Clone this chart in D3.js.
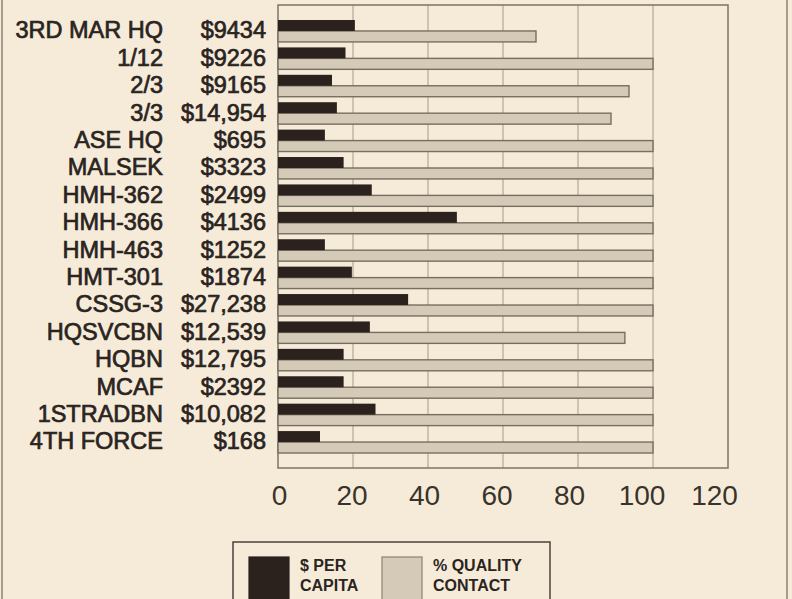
<!DOCTYPE html>
<html>
<head>
<meta charset="utf-8">
<script src="https://cdn.jsdelivr.net/npm/d3@7"></script>
<style>
  body { margin: 0; background: #f6ecdb; }
  svg { display: block; font-family: "Liberation Sans", Arial, sans-serif; }
</style>
</head>
<body>
<div id="chart"></div>
<script>
const units = ["3RD MAR HQ", "1/12", "2/3", "3/3", "ASE HQ", "MALSEK", "HMH-362", "HMH-366",
    "HMH-463", "HMT-301", "CSSG-3", "HQSVCBN", "HQBN", "MCAF", "1STRADBN", "4TH FORCE"];
const dollarLabels = ["$9434", "$9226", "$9165", "$14,954", "$695", "$3323", "$2499", "$4136",
    "$1252", "$1874", "$27,238", "$12,539", "$12,795", "$2392", "$10,082", "$168"];
const perCapita = [20.5, 18, 14.4, 15.7, 12.5, 17.5, 25, 47.7, 12.5, 19.7, 34.7, 24.5, 17.5, 17.5, 26, 11.2];
const qualityContact = [68.8, 100, 93.6, 88.8, 100, 100, 100, 100, 100, 100, 100, 92.5, 100, 100, 100, 100];
const xTicks = [0, 20, 40, 60, 80, 100, 120];

const width = 792, height = 599;
const plot = { left: 278, right: 728, top: 5, bottom: 468 };

const svg = d3.select("#chart").append("svg")
    .attr("width", width)
    .attr("height", height);

svg.append("rect")
    .attr("width", width).attr("height", height)
    .attr("fill", "#f6ebd9");

// page border lines from the scan
svg.append("line").attr("x1", 2).attr("x2", 2).attr("y1", 0).attr("y2", height)
    .attr("stroke", "#8a8274").attr("stroke-width", 1.5);
svg.append("line").attr("x1", 787).attr("x2", 787).attr("y1", 0).attr("y2", height)
    .attr("stroke", "#8a8274").attr("stroke-width", 1.5);

const x = d3.scaleLinear().domain([0, 120]).range([plot.left, plot.right]);
// tick numbers in the scan sit a bit off the gridlines
const xLabel = d3.scaleLinear().domain([0, 120]).range([279, 714]);
const y = d3.scaleBand().domain(units).range([20, 453]).paddingInner(0.2).paddingOuter(0);

// gridlines
svg.append("g")
    .selectAll("line")
    .data(xTicks.slice(1, -1))
    .enter()
    .append("line")
    .attr("x1", d => x(d)).attr("x2", d => x(d))
    .attr("y1", plot.top).attr("y2", plot.bottom)
    .attr("stroke", "#a39a8b")
    .attr("stroke-width", 1);

svg.append("rect")
    .attr("x", plot.left).attr("y", plot.top)
    .attr("width", plot.right - plot.left).attr("height", plot.bottom - plot.top)
    .attr("fill", "none")
    .attr("stroke", "#7c7468")
    .attr("stroke-width", 1.5);

const half = y.bandwidth() / 2;

svg.append("g")
    .selectAll("rect")
    .data(units)
    .enter()
    .append("rect")
    .attr("x", x(0))
    .attr("y", d => y(d) + half)
    .attr("width", (d, i) => x(qualityContact[i]) - x(0))
    .attr("height", half)
    .attr("fill", "#d5cab7")
    .attr("stroke", "#766e60")
    .attr("stroke-width", 1.4);

svg.append("g")
    .selectAll("rect")
    .data(units)
    .enter()
    .append("rect")
    .attr("x", x(0))
    .attr("y", d => y(d))
    .attr("width", (d, i) => x(perCapita[i]) - x(0))
    .attr("height", half)
    .attr("fill", "#2b221d");

// category labels (regular face, thickened a little like the scan)
const nameCol = svg.append("g")
    .attr("font-size", 23.5)
    .attr("fill", "#2a241f")
    .attr("stroke", "#2a241f")
    .attr("stroke-width", 0.7);

nameCol.selectAll("text")
    .data(units)
    .enter()
    .append("text")
    .attr("x", 163)
    .attr("y", d => y(d) + half - 1)
    .attr("dy", "0.36em")
    .attr("text-anchor", "end")
    .text(d => d);

const dollarCol = svg.append("g")
    .attr("font-size", 23.5)
    .attr("fill", "#2a241f")
    .attr("stroke", "#2a241f")
    .attr("stroke-width", 0.7);

dollarCol.selectAll("text")
    .data(dollarLabels)
    .enter()
    .append("text")
    .attr("x", 266)
    .attr("y", (d, i) => y(units[i]) + half - 1)
    .attr("dy", "0.36em")
    .attr("text-anchor", "end")
    .text(d => d);

// x axis tick labels
const axis = d3.axisBottom(xLabel).tickValues(xTicks).tickSize(0).tickPadding(17);
const ax = svg.append("g")
    .attr("transform", `translate(0,${plot.bottom})`)
    .call(axis);
ax.select(".domain").remove();
ax.selectAll("text")
    .attr("font-size", 28)
    .attr("font-family", "\"Liberation Sans\", Arial, sans-serif")
    .attr("fill", "#3a332c");

// legend
const legend = svg.append("g");
legend.append("rect")
    .attr("x", 233).attr("y", 542)
    .attr("width", 317).attr("height", 70)
    .attr("fill", "none")
    .attr("stroke", "#4a443c")
    .attr("stroke-width", 1.5);

const legendItems = [
    { fill: "#2b221d", stroke: "#2b221d", lines: ["$ PER", "CAPITA"], sx: 249, tx: 300 },
    { fill: "#d5cab7", stroke: "#8a8272", lines: ["% QUALITY", "CONTACT"], sx: 382, tx: 433 }
];

legendItems.forEach(item => {
    legend.append("rect")
        .attr("x", item.sx).attr("y", 557)
        .attr("width", 40).attr("height", 50)
        .attr("fill", item.fill)
        .attr("stroke", item.stroke)
        .attr("stroke-width", 1.2);
    item.lines.forEach((t, k) => {
        legend.append("text")
            .attr("x", item.tx)
            .attr("y", 571 + k * 20)
            .attr("font-size", 16)
            .attr("font-weight", "bold")
            .attr("fill", "#2a241f")
            .text(t);
    });
});
</script>
</body>
</html>
